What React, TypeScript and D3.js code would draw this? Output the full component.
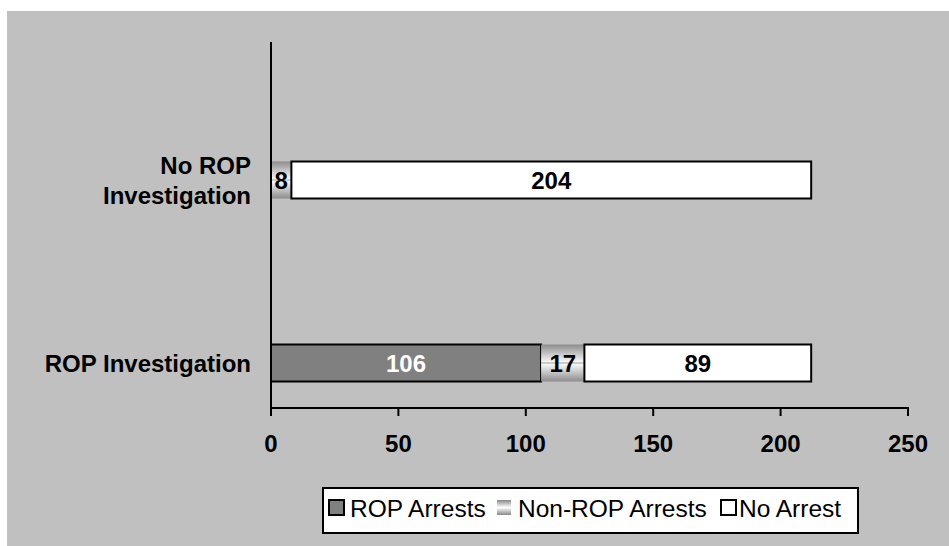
import React from "react";
import * as d3 from "d3";

const categories = ["No ROP Investigation", "ROP Investigation"];
const categoryLines = [["No ROP", "Investigation"], ["ROP Investigation"]];
const seriesNames = ["ROP Arrests", "Non-ROP Arrests", "No Arrest"];
const ropArrests = [0, 106];
const nonRopArrests = [8, 17];
const noArrest = [204, 89];
const xTicks = [0, 50, 100, 150, 200, 250];

const W = 949;
const H = 546;
const font = "Arial, 'Liberation Sans', Helvetica, sans-serif";

export default function App() {
  const x = d3.scaleLinear().domain([0, 250]).range([271, 908]);
  const y = d3.scaleBand().domain(categories).range([88.5, 454.5]);
  const barH = 37;

  const rows = categories.map((c, i) => {
    const vals = [ropArrests[i], nonRopArrests[i], noArrest[i]];
    let acc = 0;
    return vals.map((v, k) => {
      const seg = { cat: c, k, v, x0: acc, x1: acc + v };
      acc += v;
      return seg;
    });
  });

  const fills = ["#808080", "url(#nonrop)", "#ffffff"];
  const labelColors = ["#ffffff", "#000000", "#000000"];

  const legendItems = [
    { name: seriesNames[0], mx: 329, tx: 350 },
    { name: seriesNames[1], mx: 497, tx: 518 },
    { name: seriesNames[2], mx: 721, tx: 739 },
  ];

  return (
    <svg width={W} height={H} style={{ position: "absolute", left: 0, top: 0 }} fontFamily={font}>
      <defs>
        <linearGradient id="nonrop" x1="0" y1="0" x2="0" y2="1">
          <stop offset="0" stopColor="#8c8c8c" />
          <stop offset="0.5" stopColor="#ffffff" />
          <stop offset="1" stopColor="#8c8c8c" />
        </linearGradient>
        <linearGradient id="nonropLeg" x1="0" y1="0" x2="0" y2="1">
          <stop offset="0" stopColor="#888888" />
          <stop offset="0.5" stopColor="#ffffff" />
          <stop offset="1" stopColor="#888888" />
        </linearGradient>
      </defs>
      <rect x={0} y={0} width={W} height={H} fill="#ffffff" />
      <rect x={7} y={11} width={W - 7} height={H - 11} fill="#c0c0c0" />

      {rows.map((segs, i) =>
        segs.filter(s => s.v > 0).map(s => {
          const yc = (y(s.cat) as number) + y.bandwidth() / 2;
          const x0 = x(s.x0);
          const x1 = x(s.x1);
          return (
            <g key={`${i}-${s.k}`}>
              <rect
                x={x0}
                y={yc - barH / 2}
                width={x1 - x0}
                height={barH}
                fill={fills[s.k]}
                stroke={s.k === 1 ? "none" : "#000"}
                strokeWidth={2}
              />
              {s.k === 1 && (
                <line x1={x0} x2={x1} y1={yc} y2={yc} stroke="#9a9a9a" strokeWidth={1} />
              )}
              <text
                x={(x0 + x1) / 2}
                y={yc}
                dy="0.36em"
                textAnchor="middle"
                fontSize={24}
                fontWeight="bold"
                fill={labelColors[s.k]}
              >
                {s.v}
              </text>
            </g>
          );
        })
      )}

      {/* axes */}
      <line x1={271} x2={271} y1={42} y2={409} stroke="#000" strokeWidth={2} />
      <line x1={270} x2={909} y1={408} y2={408} stroke="#000" strokeWidth={2} />
      {xTicks.map(t => (
        <g key={t}>
          <line x1={x(t)} x2={x(t)} y1={408} y2={416} stroke="#000" strokeWidth={2} />
          <text x={x(t)} y={443} dy="0.36em" textAnchor="middle" fontSize={24} fontWeight="bold" fill="#000">
            {t}
          </text>
        </g>
      ))}

      {categories.map((c, i) => {
        const yc = (y(c) as number) + y.bandwidth() / 2;
        const lines = categoryLines[i];
        const lh = 30;
        return (
          <text key={c} textAnchor="end" fontSize={24} fontWeight="bold" fill="#000">
            {lines.map((l, j) => (
              <tspan key={j} x={251} y={yc + (j - (lines.length - 1) / 2) * lh} dy="0.36em">
                {l}
              </tspan>
            ))}
          </text>
        );
      })}

      {/* legend */}
      <rect x={323} y={488} width={535} height={45} fill="#ffffff" stroke="#000" strokeWidth={2} />
      {legendItems.map((it, k) => (
        <g key={it.name}>
          <rect
            x={it.mx}
            y={500}
            width={k === 1 ? 14 : 15}
            height={15}
            fill={k === 1 ? "url(#nonropLeg)" : fills[k]}
            stroke={k === 1 ? "none" : "#000"}
            strokeWidth={2}
          />
          <text x={it.tx} y={508} dy="0.36em" fontSize={24.5} fill="#000">
            {it.name}
          </text>
        </g>
      ))}
    </svg>
  );
}
